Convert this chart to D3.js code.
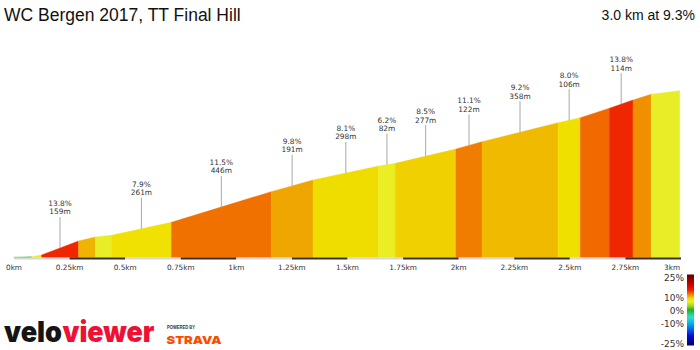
<!DOCTYPE html>
<html>
<head>
<meta charset="utf-8">
<script src="https://cdn.jsdelivr.net/npm/d3@7"></script>
<style>
  html, body { margin: 0; padding: 0; background: #fff; }
  svg { display: block; }
</style>
</head>
<body>
<div id="chart"></div>
<script>
// ---------- data ----------
const title = "WC Bergen 2017, TT Final Hill";
const summary = "3.0 km at 9.3%";
// segment boundaries (km) and elevation at each boundary (m, relative)
const distKm = [0, 0.079, 0.124, 0.290, 0.366, 0.438, 0.708, 1.157, 1.345, 1.640, 1.715, 1.988, 2.105, 2.447, 2.547, 2.678, 2.784, 2.866, 2.994];
const elevM  = [0.5, 1.2, 4.2, 27.5, 34.2, 37.0, 58.7, 109.7, 129.2, 152.5, 157.0, 180.8, 193.0, 224.7, 233.0, 248.7, 262.5, 272.0, 278.0];
// gradient of each segment (%)
const gradePct = [0.5, 6.5, 13.8, 9.4, 5.8, 7.9, 11.5, 9.8, 8.1, 6.2, 8.5, 11.1, 9.2, 8.0, 11.7, 13.8, 10.5, 5.8];
// annotated segments
const labelSeg    = [2, 5, 6, 7, 8, 9, 10, 11, 12, 13, 15];
const labelGrade  = ["13.8%", "7.9%", "11.5%", "9.8%", "8.1%", "6.2%", "8.5%", "11.1%", "9.2%", "8.0%", "13.8%"];
const labelLength = ["159m", "261m", "446m", "191m", "298m", "82m", "277m", "122m", "358m", "106m", "114m"];
// x axis
const tickKm     = [0, 0.25, 0.5, 0.75, 1, 1.25, 1.5, 1.75, 2, 2.25, 2.5, 2.75, 3];
const tickLabels = ["0km", "0.25km", "0.5km", "0.75km", "1km", "1.25km", "1.5km", "1.75km", "2km", "2.25km", "2.5km", "2.75km", "3km"];
// legend
const legendTicks  = [25, 10, 0, -10, -25];
const legendLabels = ["25%", "10%", "0%", "-10%", "-25%"];
// colour scale stops (grade %)
const colorStops  = [-25, -18, -10, -5, 0, 3, 6, 8, 14, 18, 25];
const colorValues = ["#000066", "#0010d8", "#00a8f0", "#30e0c8", "#20b020", "#a8d820", "#ecf028", "#f0e000", "#f02000", "#c80000", "#600000"];

// ---------- drawing ----------
const W = 700, H = 350;
const svg = d3.select("#chart").append("svg").attr("width", W).attr("height", H);

const color = d3.scaleLinear().domain(colorStops).range(colorValues).clamp(true);
const x = d3.scaleLinear().domain([0, 3]).range([14, 681]);
const y = d3.scaleLinear().domain([0, 278]).range([257.5, 90.7]);

// title
svg.append("text").attr("x", 4).attr("y", 21)
  .attr("font-family", "Liberation Sans, Arial, sans-serif").attr("font-size", 17.5)
  .attr("fill", "#111").text(title);
svg.append("text").attr("x", 695).attr("y", 20).attr("text-anchor", "end")
  .attr("font-family", "Liberation Sans, Arial, sans-serif").attr("font-size", 14)
  .attr("fill", "#111").text(summary);

// profile segments
const area = d3.area().x(d => x(d[0])).y0(y(0)).y1(d => y(d[1]));
const segs = gradePct.map((g, i) => ({g, pts: [[distKm[i], elevM[i]], [distKm[i + 1], elevM[i + 1]]]}));
svg.append("g").selectAll("path").data(segs).join("path")
  .attr("d", d => area(d.pts))
  .attr("fill", d => color(d.g))
  .attr("stroke", d => color(d.g)).attr("stroke-width", 0.4);

// axis strip
const quarters = d3.range(12);
svg.append("g").selectAll("rect").data(quarters).join("rect")
  .attr("x", i => x(tickKm[i])).attr("width", i => x(tickKm[i + 1]) - x(tickKm[i]))
  .attr("y", 257.5).attr("height", 2)
  .attr("fill", i => i % 2 ? "#333" : "#d8d8d8");

// tick labels
svg.append("g").selectAll("text").data(tickKm).join("text")
  .attr("x", (d, i) => i === tickKm.length - 1 ? x(d) - 1 : x(d))
  .attr("y", 270)
  .attr("text-anchor", (d, i) => i === tickKm.length - 1 ? "end" : "middle")
  .attr("font-family", "DejaVu Sans, Verdana, sans-serif").attr("font-size", 7.3)
  .attr("fill", "#333")
  .text((d, i) => tickLabels[i]);

// annotations
const ann = svg.append("g");
labelSeg.forEach((s, i) => {
  const dm = (distKm[s] + distKm[s + 1]) / 2;
  const em = (elevM[s] + elevM[s + 1]) / 2;
  const xm = x(dm), ym = y(em);
  ann.append("line").attr("x1", xm).attr("x2", xm).attr("y1", ym - 31).attr("y2", ym)
    .attr("stroke", "#a8a8a8").attr("stroke-width", 1);
  ann.append("text").attr("x", xm).attr("y", ym - 42).attr("text-anchor", "middle")
    .attr("font-family", "DejaVu Sans, Verdana, sans-serif").attr("font-size", 7.4)
    .attr("fill", "#333").text(labelGrade[i]);
  ann.append("text").attr("x", xm).attr("y", ym - 33.5).attr("text-anchor", "middle")
    .attr("font-family", "DejaVu Sans, Verdana, sans-serif").attr("font-size", 7.4)
    .attr("fill", "#333").text(labelLength[i]);
});

// legend
const ly = d3.scaleLinear().domain([25, -25]).range([277.5, 343.5]);
const defs = svg.append("defs");
const grad = defs.append("linearGradient").attr("id", "lg").attr("x1", 0).attr("x2", 0).attr("y1", 0).attr("y2", 1);
colorStops.slice().reverse().forEach((g) => {
  grad.append("stop").attr("offset", (25 - g) / 50).attr("stop-color", color(g));
});
svg.append("rect").attr("x", 687).attr("y", ly(25) - 3).attr("width", 7).attr("height", ly(-25) - ly(25) + 5)
  .attr("fill", "url(#lg)");
svg.append("g").selectAll("text").data(legendTicks).join("text")
  .attr("x", 684).attr("y", d => ly(d) + 3.4).attr("text-anchor", "end")
  .attr("font-family", "DejaVu Sans, Verdana, sans-serif").attr("font-size", 9)
  .attr("fill", "#333").text((d, i) => legendLabels[i]);

// logos
svg.append("text").attr("x", 4).attr("y", 342)
  .attr("font-family", "Inter, Roboto, Lato, sans-serif").attr("font-weight", 900).attr("font-size", 29)
  .attr("textLength", 58).attr("lengthAdjust", "spacingAndGlyphs")
  .attr("fill", "#151515").text("velo");
svg.append("text").attr("x", 62.5).attr("y", 342)
  .attr("font-family", "Inter, Roboto, Lato, sans-serif").attr("font-weight", 900).attr("font-size", 29)
  .attr("textLength", 92).attr("lengthAdjust", "spacingAndGlyphs")
  .attr("fill", "#ee1133").text("viewer");
svg.append("text").attr("x", 167).attr("y", 329)
  .attr("font-family", "Liberation Sans, Arial, sans-serif").attr("font-weight", 700).attr("font-size", 5.6)
  .attr("textLength", 28).attr("lengthAdjust", "spacingAndGlyphs")
  .attr("fill", "#333").text("POWERED BY");
svg.append("text").attr("x", 166.5).attr("y", 344)
  .attr("font-family", "Inter, Roboto, Lato, sans-serif").attr("font-weight", 900).attr("font-size", 11)
  .attr("textLength", 55).attr("lengthAdjust", "spacingAndGlyphs")
  .attr("fill", "#fc4c02").text("STRAVA");
</script>
</body>
</html>
